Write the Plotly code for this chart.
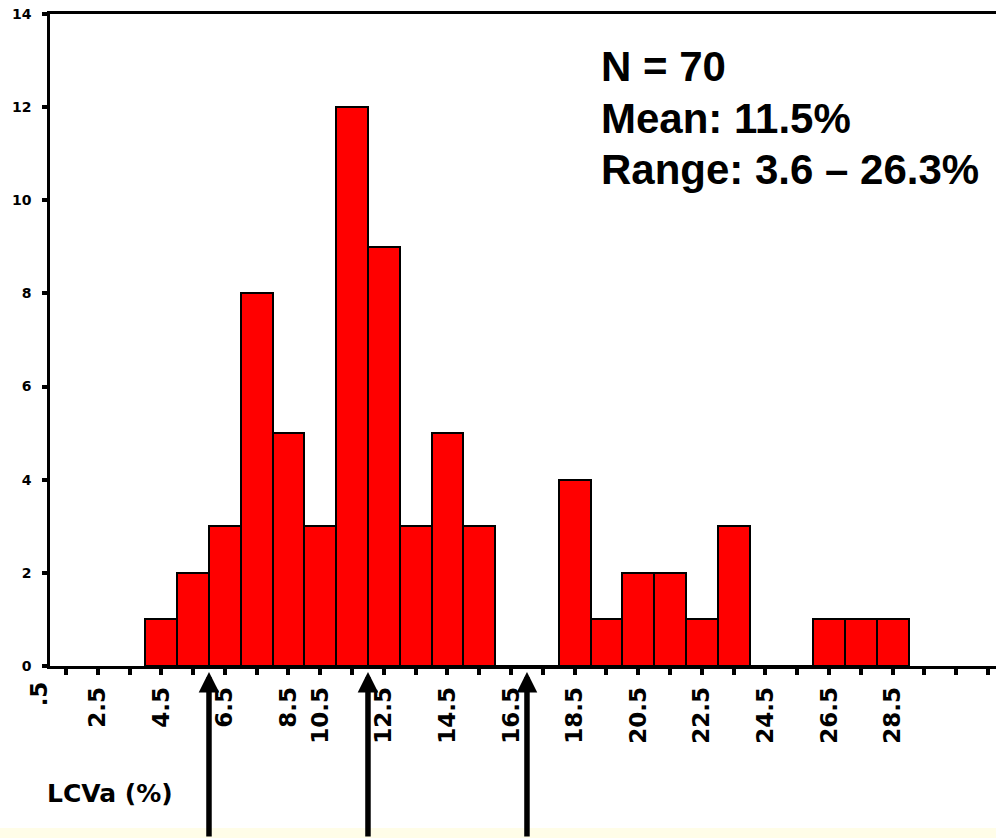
import plotly.graph_objects as go

# ---- data ----
bin_centers = [3.5, 4.5, 5.5, 6.5, 7.5, 8.5, 9.5, 10.5, 11.5, 12.5, 13.5, 14.5,
               15.5, 16.5, 17.5, 18.5, 19.5, 20.5, 21.5, 22.5, 23.5, 24.5, 25.5, 26.5]
counts = [1, 2, 3, 8, 5, 3, 12, 9, 3, 5, 3, 0,
          0, 4, 1, 2, 2, 1, 3, 0, 0, 1, 1, 1]
tick_marks = [0.5, 1.5, 2.5, 3.5, 4.5, 5.5, 6.5, 7.5, 8.5, 9.5, 10.5, 11.5, 12.5, 13.5, 14.5,
              15.5, 16.5, 17.5, 18.5, 19.5, 20.5, 21.5, 22.5, 23.5, 24.5, 25.5, 26.5, 27.5, 28.5, 29.5]
tick_labels = [".5", "2.5", "4.5", "6.5", "8.5", "10.5", "12.5", "14.5",
               "16.5", "18.5", "20.5", "22.5", "24.5", "26.5", "28.5"]
tick_label_pos = [-0.35, 1.5, 3.5, 5.5, 7.5, 8.5, 10.5, 12.5,
                  14.5, 16.5, 18.5, 20.5, 22.5, 24.5, 26.5]
y_ticks = [0, 2, 4, 6, 8, 10, 12, 14]
thresholds = [5, 10, 15]
stats_lines = ["N = 70", "Mean: 11.5%", "Range: 3.6 \u2013 26.3%"]
x_title = "LCVa (%)"

# ---- layout constants (window pixels; page body margin removed) ----
W, H = 996, 838
PLOT_L, PLOT_T, PLOT_B = 50, 14, 666
ML, MR, MT, MB = PLOT_L, 0, PLOT_T, H - PLOT_B
PW, PH = W - PLOT_L, PLOT_B - PLOT_T
X_RANGE = [0, 29.75]

def px_x(p):
    return (p - PLOT_L) / PW

def px_y(p):
    return 1 - (p - PLOT_T) / PH

label_map = dict(zip(tick_label_pos, tick_labels))
ticktext = [label_map.get(t, "") for t in tick_marks]

TICKFONT = dict(family="DejaVu Sans", size=23, color="black", weight="bold")

fig = go.Figure()
fig.add_trace(go.Bar(
    x=bin_centers, y=counts, width=1,
    marker=dict(color="#FF0000", line=dict(color="black", width=2)),
    hoverinfo="skip",
))

fig.update_layout(
    width=W, height=H,
    margin=dict(l=ML, r=MR, t=MT, b=MB, pad=0, autoexpand=False),
    plot_bgcolor="white", paper_bgcolor="white",
    bargap=0, showlegend=False,
    xaxis=dict(
        range=X_RANGE, showgrid=False, zeroline=False, automargin=False,
        showline=True, linecolor="black", linewidth=2.5, mirror=True,
        ticks="outside", ticklen=6, tickwidth=4, tickcolor="black",
        tickvals=tick_marks, ticktext=ticktext, tickangle=-90,
        ticklabelstandoff=3, ticklabeloverflow="allow", tickfont=TICKFONT,
    ),
    yaxis=dict(
        range=[0, 14], showgrid=False, zeroline=False, automargin=False,
        showline=True, linecolor="black", linewidth=2.5,
        ticks="outside", ticklen=5, tickwidth=4, tickcolor="black",
        tickvals=y_ticks, ticklabelstandoff=8, ticklabeloverflow="allow",
        tickfont=dict(family="DejaVu Sans", size=14, color="black", weight="bold"),
    ),
)

# light yellow band at the bottom
fig.add_shape(type="rect", xref="paper", yref="paper",
              x0=px_x(-5), x1=px_x(W + 5), y0=px_y(H + 5), y1=px_y(828),
              fillcolor="#FFFDE8", line=dict(width=0), layer="below")

# labels outside the axis range (".5")
for lab, pos in zip(tick_labels, tick_label_pos):
    if pos < X_RANGE[0]:
        fig.add_annotation(
            xref="paper", yref="paper",
            x=(pos - X_RANGE[0]) / (X_RANGE[1] - X_RANGE[0]), y=px_y(679),
            text=lab, showarrow=False, textangle=-90,
            xanchor="center", yanchor="top", font=TICKFONT,
        )

# threshold arrows
for t in thresholds:
    fig.add_annotation(
        x=t, xref="x", y=px_y(672), yref="paper",
        ax=0, ay=190, axref="pixel", ayref="pixel",
        text="", showarrow=True, arrowhead=2, arrowsize=0.75,
        arrowwidth=5.5, arrowcolor="black", standoff=0,
    )

# axis title text
fig.add_annotation(
    xref="paper", yref="paper", x=px_x(45), y=px_y(793),
    text=x_title, showarrow=False, xanchor="left", yanchor="middle",
    font=dict(family="DejaVu Sans", size=25, color="black", weight="bold"),
)

# stats block
for k, line in enumerate(stats_lines):
    fig.add_annotation(
        xref="paper", yref="paper", x=px_x(599), y=px_y(67 + 51.5 * k),
        text=line, showarrow=False, xanchor="left", yanchor="middle",
        font=dict(family="Liberation Sans, Arial", size=42,
                  color="black", weight="bold"),
    )

fig.write_html(
    "out.html",
    config={"displayModeBar": False},
    post_script="document.body.style.margin='0';document.body.style.overflow='hidden';",
)
